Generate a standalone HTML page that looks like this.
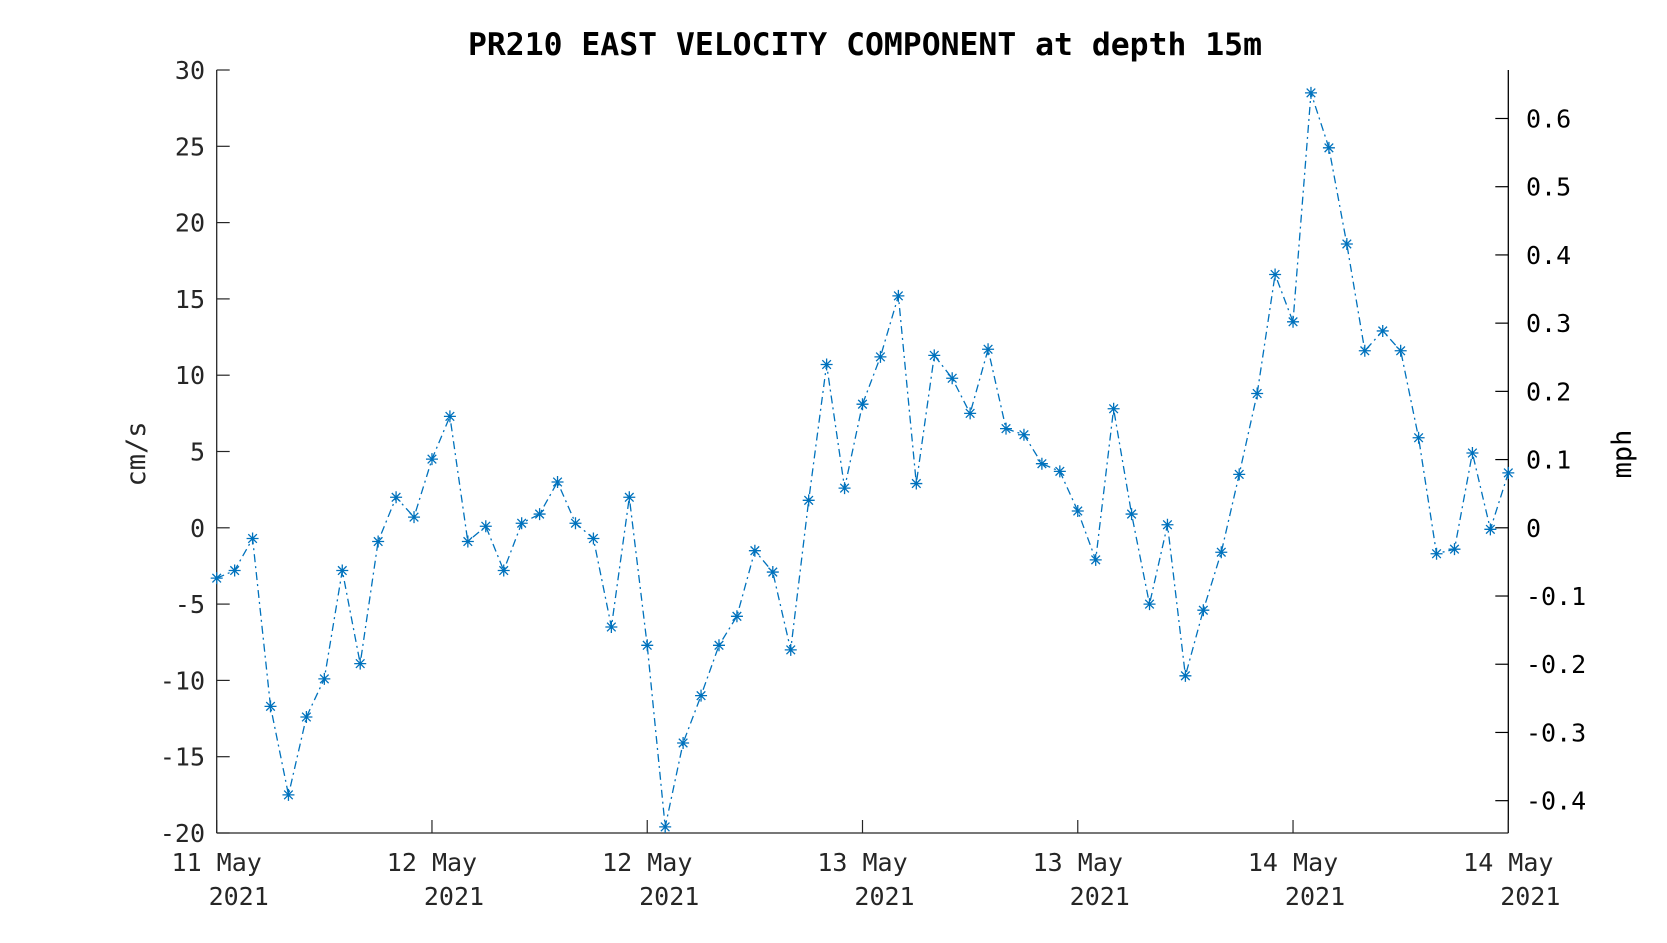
<!DOCTYPE html>
<html><head><meta charset="utf-8"><style>
html,body{margin:0;padding:0;background:#fff;}
svg text{font-family:"DejaVu Sans Mono","Liberation Mono",monospace;}
</style></head><body>
<svg id="chart" width="1667" height="938" viewBox="0 0 1667 938" xmlns="http://www.w3.org/2000/svg">
<rect width="1667" height="938" fill="#fff"/>
<text x="468" y="55" font-size="31" font-weight="bold" fill="#000" textLength="794" lengthAdjust="spacingAndGlyphs">PR210 EAST VELOCITY COMPONENT at depth 15m</text>
<g id="axes"></g>
<g id="series"></g>
</svg>
<script>
const values = [-3.3,-2.8,-0.7,-11.7,-17.5,-12.4,-9.9,-2.8,-8.9,-0.9,2.0,0.7,4.5,7.3,-0.9,0.1,-2.8,0.3,0.9,3.0,0.3,-0.7,-6.5,2.0,-7.7,-19.6,-14.1,-11.0,-7.7,-5.8,-1.5,-2.9,-8.0,1.8,10.7,2.6,8.1,11.2,15.2,2.9,11.3,9.8,7.5,11.7,6.5,6.1,4.2,3.7,1.1,-2.1,7.8,0.9,-5.0,0.2,-9.7,-5.4,-1.6,3.5,8.8,16.6,13.5,28.5,24.9,18.6,11.6,12.9,11.6,5.9,-1.7,-1.4,4.9,-0.1,3.6];
const leftTicks = [30,25,20,15,10,5,0,-5,-10,-15,-20];
const rightTicks = [0.6,0.5,0.4,0.3,0.2,0.1,0,-0.1,-0.2,-0.3,-0.4];
const xTickHours = [0,12,24,36,48,60,72];
const xTickDays = ["11 May","12 May","12 May","13 May","13 May","14 May","14 May"];
const xTickYears = ["2021","2021","2021","2021","2021","2021","2021"];

const NS="http://www.w3.org/2000/svg";
const L=216.7,R=1508.3,T=70,B=833, yMin=-20,yMax=30, xMax=72, MPH=0.0223694;
const xs=h=>L+(R-L)*h/xMax;
const ys=v=>B-(B-T)*(v-yMin)/(yMax-yMin);
const ysMph=m=>ys(m/MPH);
function mk(tag,attrs,parent){const e=document.createElementNS(NS,tag);for(const k in attrs)e.setAttribute(k,attrs[k]);parent.appendChild(e);return e;}
const ax=document.getElementById('axes'), se=document.getElementById('series');
const C="#262626";
let e;
e=mk('line',{x1:L,y1:T,x2:L,y2:B,stroke:C,'stroke-width':1.3},ax);


e=mk('line',{x1:L,y1:B,x2:R,y2:B,stroke:C,'stroke-width':1.3},ax);


e=mk('line',{x1:R,y1:T,x2:R,y2:B,stroke:"#000",'stroke-width':1.3},ax);


leftTicks.forEach(v=>{const y=ys(v);
 e=mk('line',{x1:L,y1:y,x2:L+13,y2:y,stroke:C,'stroke-width':1.2},ax);
 
 
 e=mk('text',{x:205,y:y+9,'font-size':25,'text-anchor':'end',fill:C},ax);e.textContent=String(v);
 
 
});
rightTicks.forEach(m=>{const y=ysMph(m);
 e=mk('line',{x1:R-13,y1:y,x2:R,y2:y,stroke:"#000",'stroke-width':1.2},ax);
 
 
 e=mk('text',{x:1526,y:y+9,'font-size':25,fill:"#000"},ax);e.textContent=String(m);
 
 
});
xTickHours.forEach((h,i)=>{const x=xs(h);
 e=mk('line',{x1:x,y1:B,x2:x,y2:B-13,stroke:C,'stroke-width':1.2},ax);
 
 
 e=mk('text',{x:x,y:871,'font-size':25,'text-anchor':'middle',fill:C},ax);e.textContent=xTickDays[i];
 
 
 e=mk('text',{x:x+22,y:905,'font-size':25,'text-anchor':'middle',fill:C},ax);e.textContent=xTickYears[i];
 
 
});
e=mk('text',{x:0,y:0,'font-size':27,'text-anchor':'middle',fill:C,transform:'translate(145,454) rotate(-90)'},ax);e.textContent="cm/s";


e=mk('text',{x:0,y:0,'font-size':27,'text-anchor':'middle',fill:"#000",transform:'translate(1631,454) rotate(-90)'},ax);e.textContent="mph";


const pts=values.map((v,i)=>[xs(i),ys(v)]);
e=mk('polyline',{points:pts.map(p=>p[0].toFixed(1)+','+p[1].toFixed(1)).join(' '),fill:'none',stroke:'#0072BD','stroke-width':1.3,'stroke-dasharray':'8 4 2 4'},se);


pts.forEach(([x,y])=>{const s=6,d=4.3;
 const g=mk('path',{d:`M${x-s},${y}H${x+s}M${x},${y-s}V${y+s}M${x-d},${y-d}L${x+d},${y+d}M${x-d},${y+d}L${x+d},${y-d}`,stroke:'#0072BD','stroke-width':1.3,fill:'none'},se);
 
 
});
</script>
</body></html>
